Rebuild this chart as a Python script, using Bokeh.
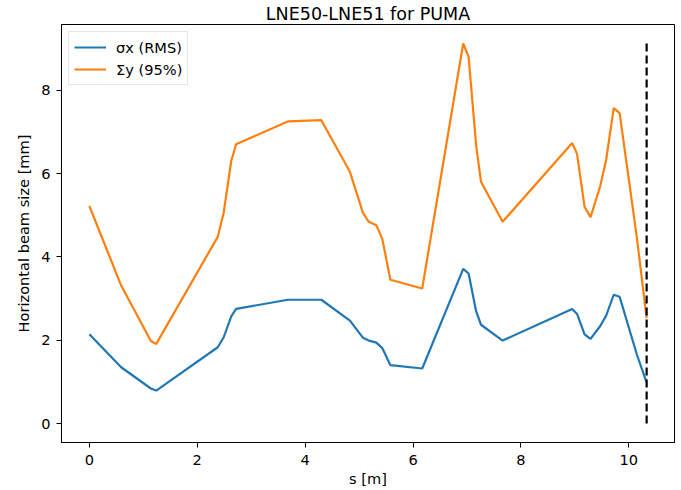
from bokeh.plotting import figure
from bokeh.models import Range1d, FixedTicker, Legend, LegendItem
from bokeh.embed import file_html
from bokeh.resources import INLINE

# ---- data ----
s_m = [0.00, 0.59, 1.14, 1.24, 2.38, 2.49, 2.63, 2.72, 3.68, 4.30, 4.83, 5.07,
       5.18, 5.32, 5.43, 5.58, 6.17, 6.93, 7.03, 7.17, 7.26, 7.66, 8.95, 9.04,
       9.18, 9.29, 9.47, 9.58, 9.72, 9.83, 10.15, 10.33]
sigma_x_rms = [2.14, 1.35, 0.84, 0.79, 1.83, 2.07, 2.57, 2.75, 2.97, 2.97, 2.47, 2.06,
               1.99, 1.94, 1.81, 1.40, 1.32, 3.71, 3.60, 2.69, 2.37, 1.99, 2.75, 2.63,
               2.14, 2.03, 2.34, 2.59, 3.09, 3.04, 1.65, 0.98]
Sigma_y_95 = [5.22, 3.31, 1.98, 1.91, 4.48, 5.06, 6.30, 6.70, 7.25, 7.28, 6.04, 5.06,
              4.84, 4.76, 4.43, 3.45, 3.24, 9.12, 8.80, 6.67, 5.80, 4.84, 6.73, 6.47,
              5.20, 4.95, 5.70, 6.33, 7.57, 7.45, 4.45, 2.53]
x_ticks = [0, 2, 4, 6, 8, 10]
y_ticks = [0, 2, 4, 6, 8]
labels = ["σx (RMS)", "Σy (95%)"]

# end-of-line marker
end_s = [s_m[-1], s_m[-1]]
end_v = [0, max(Sigma_y_95)]

# ranges with matplotlib-like 5% margins
xmin, xmax = min(s_m), max(s_m)
ymin, ymax = 0.0, max(Sigma_y_95)
dx = 0.05 * (xmax - xmin)
dy = 0.05 * (ymax - ymin)

FONT = "DejaVu Sans"

p = figure(width=681, height=490, output_backend="svg", toolbar_location=None,
           x_range=Range1d(xmin - dx, xmax + dx), y_range=Range1d(ymin - dy, ymax + dy),
           title="LNE50-LNE51 for PUMA",
           min_border_left=61, min_border_right=7, min_border_top=0, min_border_bottom=48)

p.title.text_font = FONT
p.title.text_font_size = "17.5px"
p.title.text_font_style = "normal"
p.title.align = "center"
p.title.text_color = "black"
p.title.standoff = 2
p.title.offset = 0

p.grid.visible = False
p.outline_line_color = "black"
p.outline_line_width = 1
p.background_fill_color = "white"
p.border_fill_color = "white"

for ax in (p.xaxis[0], p.yaxis[0]):
    ax.major_label_text_font = FONT
    ax.major_label_text_font_size = "14.6px"
    ax.major_label_text_color = "black"
    ax.axis_label_text_font = FONT
    ax.axis_label_text_font_size = "14.6px"
    ax.axis_label_text_font_style = "normal"
    ax.axis_label_text_color = "black"
    ax.minor_tick_line_color = None
    ax.major_tick_out = 5
    ax.major_tick_in = 0
    ax.major_tick_line_color = "black"
    ax.axis_line_color = "black"

p.xaxis.ticker = FixedTicker(ticks=x_ticks)
p.yaxis.ticker = FixedTicker(ticks=y_ticks)
p.xaxis.major_label_overrides = {t: str(t) for t in x_ticks}
p.yaxis.major_label_overrides = {t: str(t) for t in y_ticks}
p.xaxis.axis_label = "s [m]"
p.yaxis.axis_label = "Horizontal beam size [mm]"
p.xaxis.major_label_standoff = 7
p.yaxis.major_label_standoff = 6
p.xaxis.axis_label_standoff = 2
p.yaxis.axis_label_standoff = 6

r1 = p.line(s_m, sigma_x_rms, line_color="#1f77b4", line_width=2.2)
r2 = p.line(s_m, Sigma_y_95, line_color="#ff7f0e", line_width=2.2)
p.line(end_s, end_v, line_color="black", line_width=2.2, line_dash="8 4")

legend = Legend(items=[LegendItem(label=labels[0], renderers=[r1]),
                       LegendItem(label=labels[1], renderers=[r2])],
                location="top_left")
legend.label_text_font = FONT
legend.label_text_font_size = "14.6px"
legend.label_text_color = "black"
legend.glyph_width = 32
legend.glyph_height = 20
legend.label_height = 20
legend.label_standoff = 10
legend.spacing = 2
legend.padding = 5
legend.margin = 7
legend.border_line_color = "#cccccc"
legend.border_line_width = 1
legend.background_fill_alpha = 0.8
p.add_layout(legend)

open("out.html", "w").write(file_html(p, INLINE))
